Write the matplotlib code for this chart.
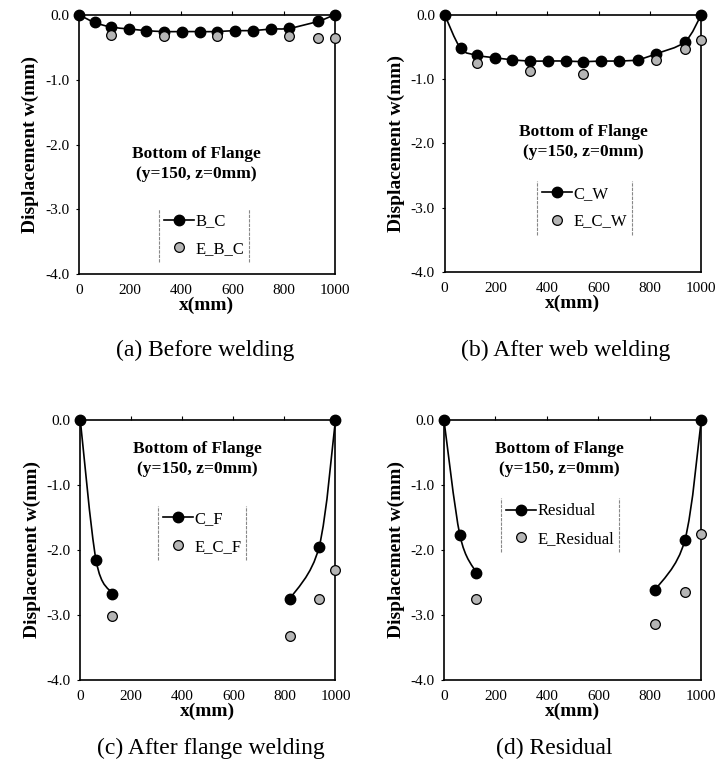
import numpy as np
import matplotlib.pyplot as plt
from matplotlib.path import Path
from matplotlib.patches import PathPatch
from matplotlib.lines import Line2D

plt.rcParams['font.family'] = ['Liberation Serif', 'DejaVu Serif']

# -----------------------
# data
# -----------------------
x_full = [0, 62, 126, 198, 263, 332, 402, 472, 540, 610, 680, 752, 822, 936, 1000]
x_exp = [126, 332, 540, 822, 936, 1000]
x_left = [0, 62, 126]
x_right = [822, 936, 1000]
x_exp_ends = [126, 822, 936, 1000]

b_c = [0.0, -0.12, -0.19, -0.22, -0.245, -0.26, -0.26, -0.26, -0.26, -0.245, -0.245, -0.22, -0.21, -0.10, 0.0]
e_b_c = [-0.31, -0.33, -0.33, -0.33, -0.36, -0.36]

c_w = [0.0, -0.52, -0.63, -0.67, -0.70, -0.72, -0.72, -0.72, -0.73, -0.72, -0.72, -0.70, -0.61, -0.42, 0.0]
e_c_w = [-0.75, -0.88, -0.92, -0.70, -0.54, -0.40]

c_f_left = [0.0, -2.16, -2.67]
c_f_right = [-2.75, -1.95, 0.0]
e_c_f = [-3.02, -3.32, -2.75, -2.31]

res_left = [0.0, -1.77, -2.35]
res_right = [-2.61, -1.85, 0.0]
e_res = [-2.75, -3.14, -2.64, -1.75]

captions = ['(a) Before welding', '(b) After web welding',
            '(c) After flange welding', '(d) Residual']
note = 'Bottom of Flange\n(y=150, z=0mm)'


def smooth_path(xs, ys):
    # excel-like smoothed line: catmull-rom segments as cubic beziers
    pts = np.column_stack([xs, ys]).astype(float)
    verts = [pts[0]]
    codes = [Path.MOVETO]
    n = len(pts)
    for i in range(n - 1):
        p0 = pts[i - 1] if i > 0 else pts[i]
        p1, p2 = pts[i], pts[i + 1]
        p3 = pts[i + 2] if i + 2 < n else pts[i + 1]
        verts += [p1 + (p2 - p0) / 6, p2 - (p3 - p1) / 6, p2]
        codes += [Path.CURVE4] * 3
    return Path(verts, codes)


fig = plt.figure(figsize=(7.23, 7.73), dpi=100)

positions = [
    [0.109, 0.645, 0.354, 0.336],
    [0.615, 0.648, 0.355, 0.333],
    [0.111, 0.120, 0.353, 0.337],
    [0.614, 0.120, 0.356, 0.337],
]

panels = [
    ([(x_full, b_c)], (x_exp, e_b_c), 'B_C', 'E_B_C', (460, -2.3), (0.49, 0.15)),
    ([(x_full, c_w)], (x_exp, e_c_w), 'C_W', 'E_C_W', (540, -1.98), (0.545, 0.25)),
    ([(x_left, c_f_left), (x_right, c_f_right)], (x_exp_ends, e_c_f), 'C_F', 'E_C_F',
     (460, -0.6), (0.477, 0.565)),
    ([(x_left, res_left), (x_right, res_right)], (x_exp_ends, e_res), 'Residual', 'E_Residual',
     (450, -0.6), (0.45, 0.595)),
]

cap_pos = [(205, 350), (566, 350), (211, 748), (554, 748)]

axes = []
legends = []
for k, (calc, exp, lab_c, lab_e, note_xy, leg_xy) in enumerate(panels):
    ax = fig.add_axes(positions[k])
    for xs, ys in calc:
        ax.add_patch(PathPatch(smooth_path(xs, ys), fill=False, ec='black', lw=1.2, clip_on=False))
        ax.plot(xs, ys, ls='none', marker='o', ms=7.5, color='black', clip_on=False, zorder=3)
    ax.plot(exp[0], exp[1], ls='none', marker='o', ms=7, mfc='#b5b5b5', mec='black',
            mew=0.9, clip_on=False, zorder=3)

    ax.set_xlim(0, 1000)
    ax.set_ylim(-4, 0)
    ax.set_xticks(range(0, 1001, 200))
    ax.set_yticks([0, -1, -2, -3, -4])
    ax.set_yticklabels([f'{v:.1f}' for v in [0, -1, -2, -3, -4]])
    ax.tick_params(axis='x', top=True, bottom=False, labeltop=False, labelbottom=True,
                   direction='out', length=3, pad=4, labelsize=11)
    ax.tick_params(axis='y', direction='out', length=2, pad=5, labelsize=11)
    for sp in ax.spines.values():
        sp.set_linewidth(1.2)

    ax.set_xlabel('x(mm)', fontsize=14, fontweight='bold', labelpad=0)
    ax.set_ylabel('Displacement w(mm)', fontsize=14, fontweight='bold', labelpad=4)

    ax.text(note_xy[0], note_xy[1], note, ha='center', va='center',
            fontsize=12.5, fontweight='bold', linespacing=1.3)

    handles = [
        Line2D([], [], color='black', lw=1.2, marker='o', ms=7.5),
        Line2D([], [], ls='none', marker='o', ms=7, mfc='#b5b5b5', mec='black', mew=0.9),
    ]
    leg = ax.legend(handles, [lab_c, lab_e], loc='center', bbox_to_anchor=leg_xy,
                    frameon=False, fontsize=12, handlelength=1.8, handletextpad=0.1,
                    labelspacing=0.7, borderpad=0.3)
    axes.append(ax)
    legends.append(leg)

    fig.text(cap_pos[k][0] / 723, 1 - cap_pos[k][1] / 773, captions[k],
             ha='center', va='center', fontsize=17)

# legend box only shows its side edges
fig.canvas.draw()
for ax, leg in zip(axes, legends):
    bb = leg.get_window_extent().transformed(ax.transAxes.inverted())
    for xv in (bb.x0, bb.x1):
        ax.plot([xv, xv], [bb.y0, bb.y1], transform=ax.transAxes,
                color='#888888', lw=0.8, ls=(0, (3, 1)))

fig.savefig('out.png', dpi=100)
